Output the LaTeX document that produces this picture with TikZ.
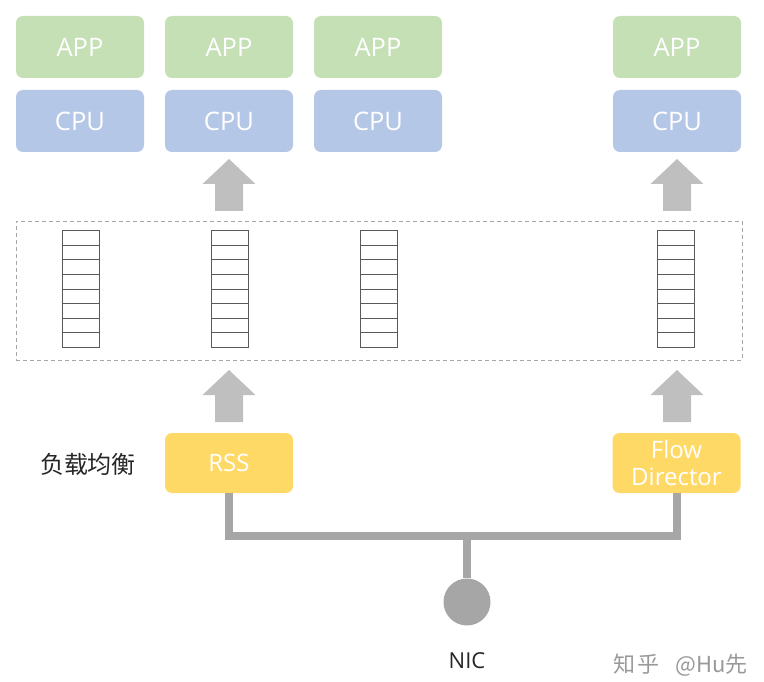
\documentclass[tikz,border=0pt]{standalone}
\usepackage{fontspec}
\usetikzlibrary{calc}
\setmainfont{Open Sans}
\newfontfamily\cjk{Noto Sans CJK SC}
\definecolor{appgreen}{HTML}{C5E0B4}
\definecolor{cpublue}{HTML}{B4C7E7}
\definecolor{lbyellow}{HTML}{FFD966}
\definecolor{arrowgray}{HTML}{BFBFBF}
\definecolor{linegray}{HTML}{A6A6A6}
\definecolor{qgray}{HTML}{595959}
\begin{document}
\begin{tikzpicture}[x=1pt,y=-1pt,
  box/.style={rounded corners=7pt, minimum width=128pt, inner sep=0pt, text=white, font=\fontsize{25.5}{30}\selectfont},
  appbox/.style={box, fill=appgreen, minimum height=62pt},
  cpubox/.style={box, fill=cpublue, minimum height=62pt},
  lbbox/.style={box, fill=lbyellow, minimum height=60pt, align=center, font=\fontsize{24}{30}\selectfont},
  queue/.style={draw=qgray, line width=0.8pt},
  blockarrow/.style={fill=arrowgray, draw=none},
  wire/.style={draw=linegray, line width=8pt}
]
\useasboundingbox (0,0) rectangle (764,682);

% APP / CPU
\foreach \i/\x in {1/80,2/229,3/378,4/677}{
  \node[appbox] (app\i) at (\x,47) {APP};
  \node[cpubox] (cpu\i) at (\x,121) {CPU};
}

% dashed container
\node[draw=linegray, dashed, dash pattern=on 4pt off 3pt, line width=0.8pt, minimum width=726pt, minimum height=139pt, inner sep=0pt] (rq) at (379,290.5) {};

% queues
\foreach \i/\x in {1/81,2/230,3/379,4/676}{
  \node[inner sep=0pt, minimum width=36pt, minimum height=116pt] (q\i) at (\x,289) {};
  \draw[queue] (q\i.north west) rectangle (q\i.south east);
  \foreach \k in {1,...,7}{
    \draw[queue] ($(q\i.north west)!\k/8!(q\i.south west)$) -- ($(q\i.north east)!\k/8!(q\i.south east)$);
  }
}

% load balancers
\node[lbbox] (rss) at (229,463) {RSS};
\node[lbbox] (fd) at (676.5,463) {Flow\\[-3pt]Director};
\node[font=\cjk\fontsize{24}{28}\selectfont, text=black!85] (lbl) at (88,464) {负载均衡};

% block arrows
\foreach \x/\t/\b in {229/159/211, 677/159/211, 229/370/422, 677/370/422}{
  \fill[blockarrow] (\x,\t) -- (\x+26.5,\b-27) -- (\x+14,\b-27) -- (\x+14,\b) -- (\x-14,\b) -- (\x-14,\b-27) -- (\x-26.5,\b-27) -- cycle;
}

% NIC
\node[circle, fill=linegray, minimum size=47pt, inner sep=0pt] (nic) at (467,602) {};
\node[font=\fontsize{22}{26}\selectfont, text=black!85] (niclbl) at (467,661) {NIC};
\coordinate (bus) at (467,536);
\draw[wire] (rss.south) |- (bus) -| (fd.south);
\draw[wire] (bus) -- (nic.north);

% watermark
\node[anchor=west, font=\cjk\fontsize{22}{26}\selectfont, text=black!40, inner sep=0pt] (wm) at (613,665) {知\hspace{2pt}乎\hspace{16pt}@Hu先};
\end{tikzpicture}
\end{document}
